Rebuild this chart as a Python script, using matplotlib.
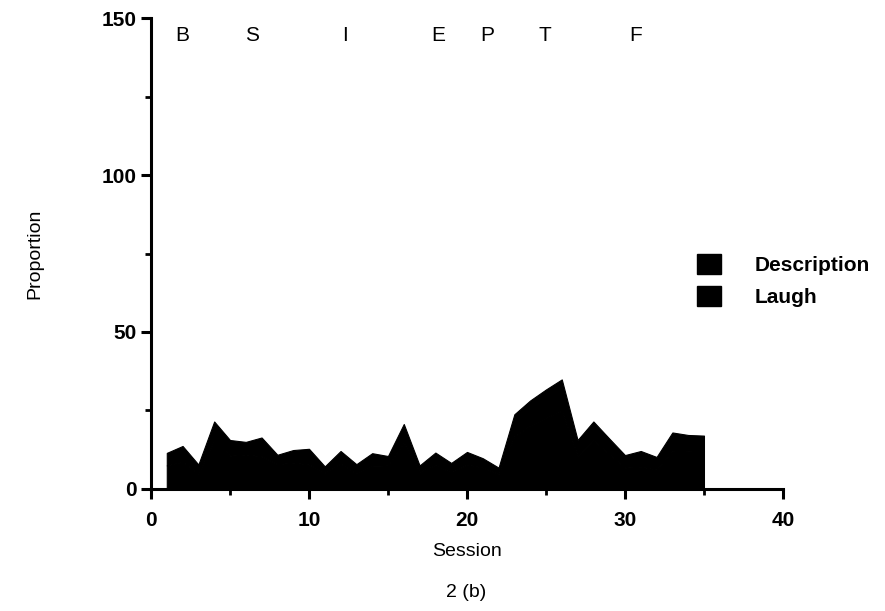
import numpy as np
import matplotlib
matplotlib.use('Agg')
import matplotlib.pyplot as plt
from matplotlib.patches import Patch

plt.rcParams['font.family'] = ['Liberation Sans', 'DejaVu Sans']
plt.rcParams['font.weight'] = 'bold'

# sessions and stacked series
sessions = np.arange(1, 36)
description = [7.5, 8.7, 4.8, 15.5, 10.6, 11.0, 10.4, 7.9, 8.4, 7.8,
               5.2, 8.1, 4.9, 7.4, 7.5, 14.7, 5.5, 7.6, 5.3, 7.8,
               6.8, 4.8, 16.8, 20.2, 22.7, 24.9, 10.6, 15.5, 11.1, 6.8,
               7.1, 6.2, 12.0, 12.2, 12.0]
laugh = [4.0, 5.0, 3.0, 6.0, 5.0, 4.0, 6.0, 3.0, 4.0, 5.0,
         2.0, 4.0, 3.0, 4.0, 3.0, 6.0, 2.0, 4.0, 3.0, 4.0,
         3.0, 2.0, 7.0, 8.0, 9.0, 10.0, 5.0, 6.0, 5.0, 4.0,
         5.0, 4.0, 6.0, 5.0, 5.0]
series_names = ['Description', 'Laugh']

# phase markers across the top
phases = ['B', 'S', 'I', 'E', 'P', 'T', 'F']
phase_x = [2.0, 6.4, 12.3, 18.2, 21.3, 24.9, 30.7]

fig = plt.figure(figsize=(8.85, 6.11), dpi=100)
ax = fig.add_axes([0.1706, 0.1997, 0.7141, 0.7708])

ax.stackplot(sessions, description, laugh, colors=['black', 'black'],
             edgecolor='black', linewidth=0.8)

for lab, px in zip(phases, phase_x):
    ax.text(px, 144.5, lab, ha='center', va='center', fontsize=15,
            fontweight='normal')

ax.set_xlim(0, 40)
ax.set_ylim(0, 150)
ax.set_xticks([0, 10, 20, 30, 40])
ax.set_xticks([5, 15, 25, 35], minor=True)
ax.set_yticks([0, 50, 100, 150])
ax.set_yticks([25, 75, 125], minor=True)

for side in ['top', 'right']:
    ax.spines[side].set_visible(False)
for side in ['left', 'bottom']:
    ax.spines[side].set_linewidth(2.2)
ax.tick_params(which='major', direction='out', length=7, width=2.2,
               labelsize=15)
ax.tick_params(axis='y', which='major', pad=3)
ax.tick_params(axis='x', which='major', pad=9)
ax.tick_params(which='minor', direction='out', length=4, width=2)

ax.set_xlabel('Session', fontsize=14, labelpad=9)
ax.set_ylabel('Proportion', fontsize=14, labelpad=42)
fig.text(0.527, 0.03, '2 (b)', ha='center', va='center', fontsize=14,
         fontweight='normal')

handles = [Patch(facecolor='black', edgecolor='black') for _ in series_names]
ax.legend(handles, series_names, loc='center left',
          bbox_to_anchor=(0.835, 0.443), frameon=False, fontsize=15,
          handlelength=1.15, handleheight=1.1, handletextpad=1.6,
          labelspacing=0.55)

fig.savefig('out.png', dpi=100)
